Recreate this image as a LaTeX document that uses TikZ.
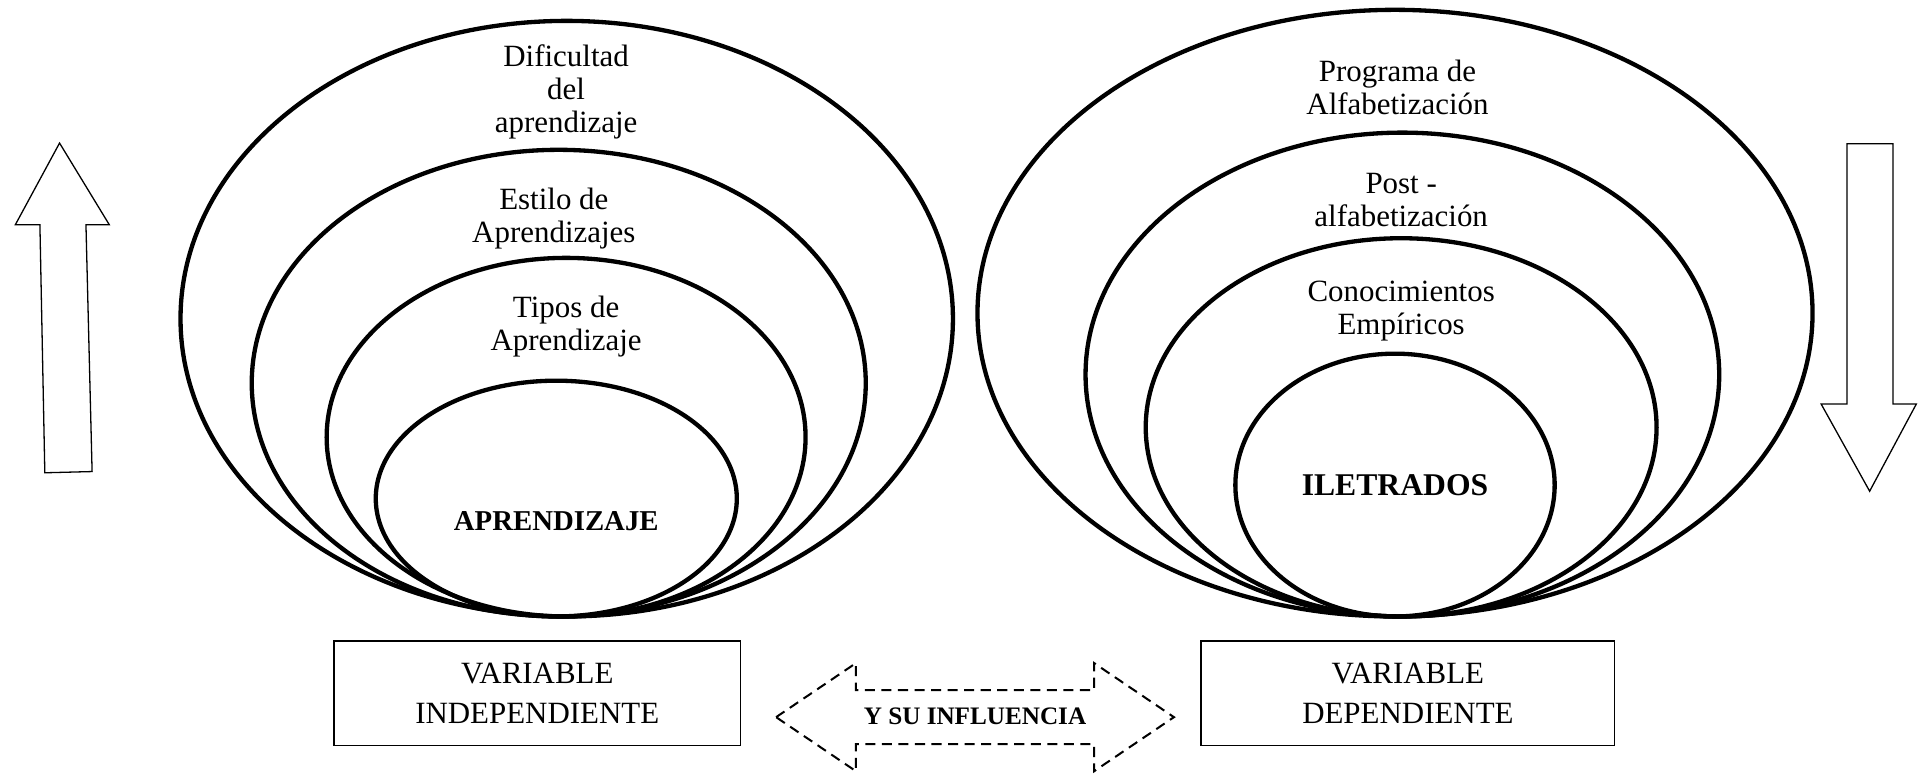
\documentclass[tikz,border=0pt]{standalone}
\usepackage{fontspec}
\setmainfont{Liberation Serif}
\begin{document}
\begin{tikzpicture}[x=0.3mm,y=-0.3mm,
  ring/.style={line width=3pt},
  lbl/.style={align=center,inner sep=0pt,font=\fontsize{21.5}{23}\selectfont},
  core/.style={align=center,inner sep=0pt,font=\fontsize{21}{23}\selectfont\bfseries},
  varbox/.style={draw,line width=0.9pt,minimum width=331*0.3mm,minimum height=85*0.3mm,align=center,inner sep=0pt,font=\fontsize{21.5}{28}\selectfont},
  bigarrow/.style={draw,line width=0.9pt,fill=white},
  dasharrow/.style={draw,line width=1.4pt,dash pattern=on 7pt off 4.5pt}]
\useasboundingbox (0,0) rectangle (1568.4,633.5);
% left rings
\draw[ring] (461.5,259.5) ellipse [x radius=314.5,y radius=242.5];
\draw[ring] (455,312) ellipse [x radius=250,y radius=190];
\draw[ring] (461,356) ellipse [x radius=195,y radius=146];
\draw[ring] (453,406) ellipse [x radius=147,y radius=96];
% right rings
\draw[ring] (1136,255) ellipse [x radius=340,y radius=247];
\draw[ring] (1142,305) ellipse [x radius=258,y radius=197];
\draw[ring] (1141,348) ellipse [x radius=208,y radius=154];
\draw[ring] (1136,395) ellipse [x radius=130,y radius=107];
% left texts
\node[lbl] (t1) at (461,75) {Dificultad\\del\\aprendizaje};
\node[lbl] (t2) at (451,178) {Estilo de\\Aprendizajes};
\node[lbl] (t3) at (461,266) {Tipos de\\Aprendizaje};
\node[core,font=\fontsize{20}{23}\selectfont\bfseries] (t4) at (453,424) {APRENDIZAJE};
% right texts
\node[lbl] (r1) at (1138,71) {Programa de\\Alfabetización};
\node[lbl] (r2) at (1141,163) {Post -\\alfabetización};
\node[lbl] (r3) at (1141,253) {Conocimientos\\Empíricos};
\node[core,font=\fontsize{22}{23}\selectfont\bfseries] (r4) at (1136,395) {ILETRADOS};
% boxes
\node[varbox] (vi) at (437.5,564.5) {VARIABLE\\INDEPENDIENTE};
\node[varbox,minimum width=337*0.3mm] (vd) at (1146.5,564.5) {VARIABLE\\DEPENDIENTE};
% up arrow
\draw[bigarrow] (48.5,116.5) -- (89,183) -- (70,183) -- (75,384) -- (36.5,385) -- (32.5,183) -- (12.5,183) -- cycle;
% down arrow
\draw[bigarrow] (1504,117) -- (1541.5,117) -- (1541.5,329) -- (1560.5,329) -- (1522.5,400) -- (1483,329) -- (1504,329) -- cycle;
% dashed double arrow
\draw[dasharrow] (632,584) -- (697,540) -- (697,562) -- (891,562) -- (891,540) -- (956,584) -- (891,628) -- (891,606) -- (697,606) -- (697,628) -- cycle;
\node[align=center,inner sep=0pt,font=\fontsize{17.5}{20}\selectfont\bfseries] (inf) at (794,583) {Y SU INFLUENCIA};
\end{tikzpicture}
\end{document}
